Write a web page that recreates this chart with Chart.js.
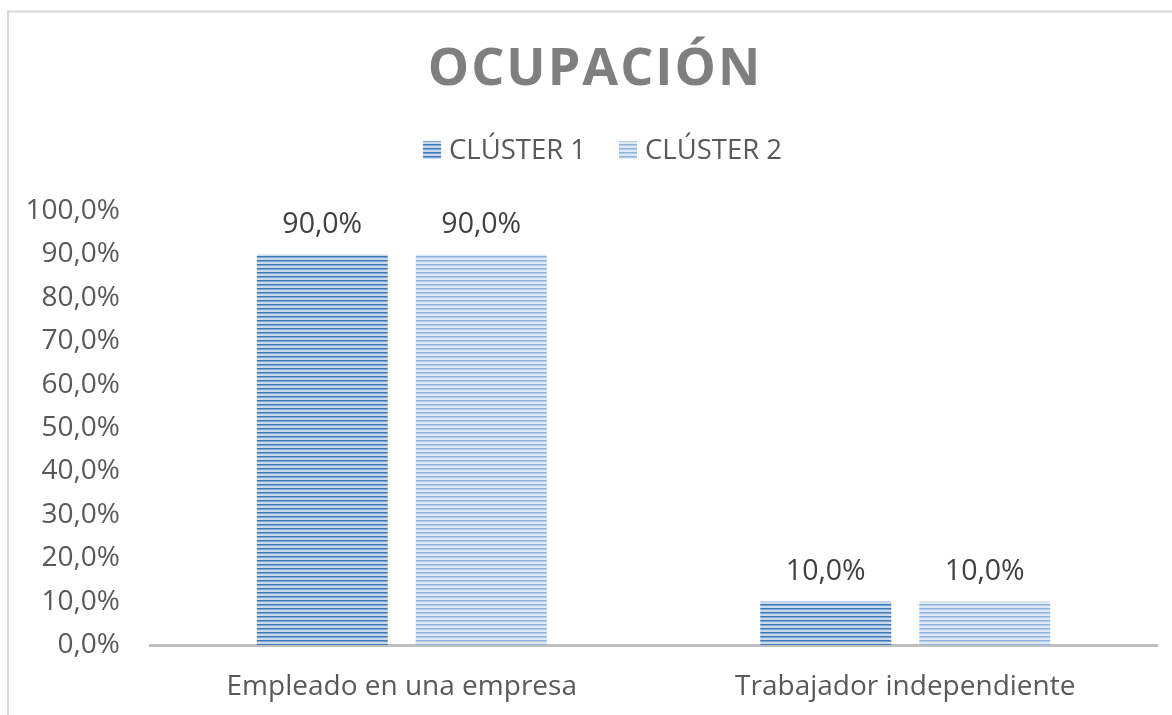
<!DOCTYPE html>
<html><head><meta charset="utf-8">
<script src="https://cdn.jsdelivr.net/npm/chart.js@4/dist/chart.umd.min.js"></script>
<style>html,body{margin:0;padding:0;background:#fff}#wrap{width:1172px;height:715px;position:relative}</style>
</head><body><div id="wrap"><canvas id="c" width="1172" height="715"></canvas></div>
<script>
const titleText = "OCUPACIÓN";
const categories = ["Empleado en una empresa", "Trabajador independiente"];
const seriesNames = ["CLÚSTER 1", "CLÚSTER 2"];
const cluster1 = [90, 10];
const cluster2 = [90, 10];
const yTicks = [0, 10, 20, 30, 40, 50, 60, 70, 80, 90, 100];

const FONT = '"Open Sans", "Liberation Sans", sans-serif';

function stripePattern(dark, mid, light) {
  const p = document.createElement('canvas');
  p.width = 4; p.height = 4;
  const g = p.getContext('2d');
  g.fillStyle = dark; g.fillRect(0, 0, 4, 1);
  g.fillStyle = mid; g.fillRect(0, 1, 4, 1);
  g.fillStyle = light; g.fillRect(0, 2, 4, 2);
  return document.getElementById('c').getContext('2d').createPattern(p, 'repeat');
}
const fmt = v => v.toFixed(1).replace('.', ',') + '%';

function draw() {
  const pat1 = stripePattern('#3f78b7', '#7ea6d3', '#c9daee');
  const pat2 = stripePattern('#8db2dd', '#b4cce8', '#dfe9f5');
  const patterns = [pat1, pat2];

  const framePlugin = {
    id: 'frame',
    beforeDraw(chart) {
      const ctx = chart.ctx;
      ctx.save();
      ctx.strokeStyle = '#d9d9d9';
      ctx.lineWidth = 2;
      ctx.beginPath();
      ctx.moveTo(8, 715); ctx.lineTo(8, 11.5); ctx.lineTo(1172, 11.5);
      ctx.stroke();
      ctx.restore();
    }
  };

  const titleLegendPlugin = {
    id: 'titleLegend',
    afterDraw(chart) {
      const ctx = chart.ctx;
      ctx.save();
      ctx.font = 'bold 52px ' + FONT;
      ctx.letterSpacing = '2px';
      ctx.fillStyle = '#7f7f7f';
      ctx.textAlign = 'center';
      ctx.textBaseline = 'middle';
      ctx.fillText(titleText, 595, 70);
      ctx.letterSpacing = '0px';
      ctx.font = '27.5px ' + FONT;
      ctx.textAlign = 'left';
      const starts = [423, 619];
      chart.data.datasets.forEach((ds, i) => {
        const x = starts[i];
        ctx.fillStyle = ds.backgroundColor;
        ctx.fillRect(x, 141, 18, 18);
        ctx.fillStyle = '#595959';
        ctx.fillText(ds.label, x + 26, 151);
      });
      ctx.restore();
    }
  };

  const valueLabels = {
    id: 'valueLabels',
    afterDatasetsDraw(chart) {
      const ctx = chart.ctx;
      ctx.save();
      ctx.font = '28.5px ' + FONT;
      ctx.fillStyle = '#404040';
      ctx.textAlign = 'center';
      ctx.textBaseline = 'middle';
      chart.data.datasets.forEach((ds, i) => {
        chart.getDatasetMeta(i).data.forEach((bar, j) => {
          ctx.fillText(fmt(ds.data[j]), bar.x, bar.y - 30);
        });
      });
      ctx.restore();
    }
  };

  new Chart(document.getElementById('c'), {
    type: 'bar',
    data: {
      labels: categories,
      datasets: [
        { label: seriesNames[0], data: cluster1, backgroundColor: patterns[0] },
        { label: seriesNames[1], data: cluster2, backgroundColor: patterns[1] }
      ]
    },
    options: {
      responsive: false,
      animation: false,
      devicePixelRatio: 1,
      layout: { padding: { top: 211, right: 15, left: 0, bottom: 0 } },
      datasets: { bar: { categoryPercentage: 0.6316, barPercentage: 0.824 } },
      plugins: { legend: { display: false }, title: { display: false }, tooltip: { enabled: false } },
      scales: {
        x: {
          grid: { display: false, drawTicks: false },
          border: { display: true, color: '#bfbfbf', width: 3 },
          ticks: { font: { family: FONT, size: 28 }, color: '#595959', padding: 25, maxRotation: 0 },
          afterFit: s => { s.height = 70; }
        },
        y: {
          min: 0, max: 100,
          afterBuildTicks: s => { s.ticks = yTicks.map(v => ({ value: v })); },
          grid: { display: false, drawTicks: false },
          border: { display: false },
          ticks: { font: { family: FONT, size: 28 }, color: '#595959', padding: 30, callback: v => fmt(v) },
          afterFit: s => { s.width = 150; }
        }
      }
    },
    plugins: [framePlugin, titleLegendPlugin, valueLabels]
  });
}

Promise.all([
  document.fonts.load('bold 52px "Open Sans"'),
  document.fonts.load('28px "Open Sans"')
]).then(draw, draw);
</script>
</body></html>
